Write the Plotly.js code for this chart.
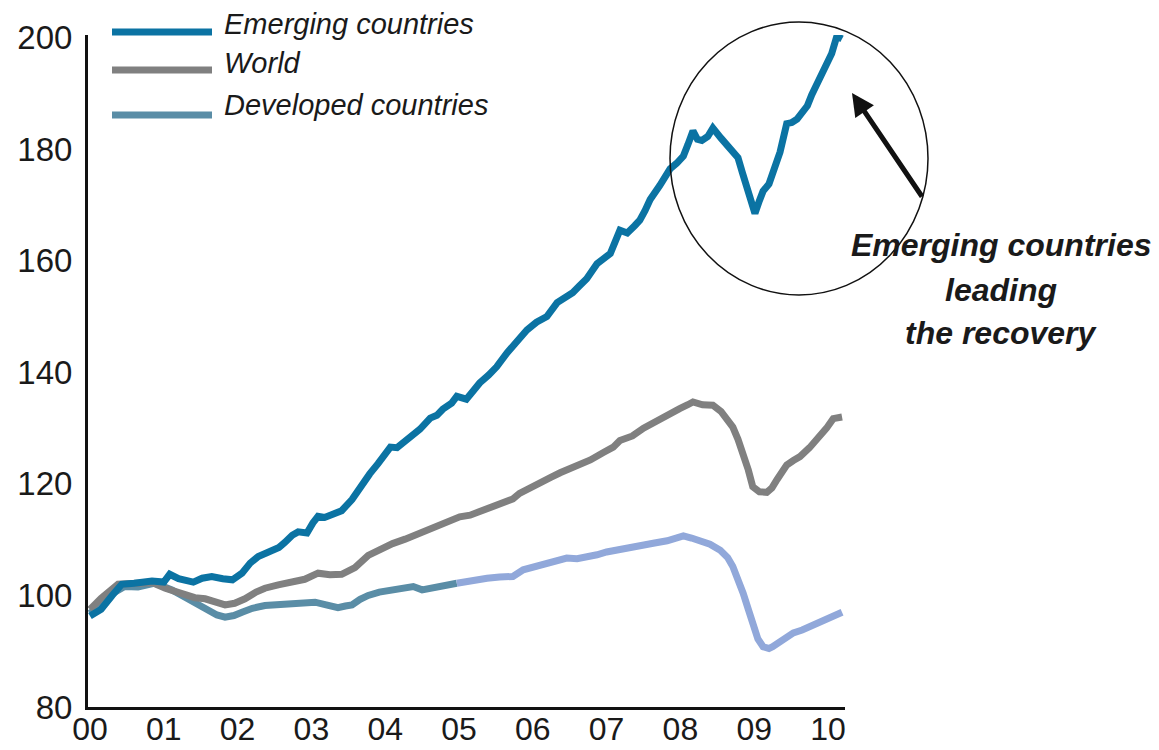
<!DOCTYPE html>
<html>
<head>
<meta charset="utf-8">
<script src="https://cdn.plot.ly/plotly-3.0.1.min.js"></script>
<style>html,body{margin:0;padding:0;background:#fff;}#chart{width:1159px;height:750px;}</style>
</head>
<body>
<div id="chart"></div>
<script>
// Year offsets since 2000 and index values (2000 = ~100)
const emergingX = [0.0,0.15,0.3,0.43,0.6,0.84,1.0,1.08,1.2,1.29,1.4,1.52,1.65,1.8,1.93,2.06,2.17,2.28,2.38,2.47,2.56,2.64,2.74,2.82,2.94,3.02,3.09,3.18,3.28,3.41,3.55,3.65,3.73,3.79,3.9,4.07,4.16,4.3,4.47,4.61,4.7,4.78,4.9,4.97,5.1,5.2,5.28,5.4,5.51,5.65,5.8,5.92,6.05,6.19,6.33,6.45,6.54,6.63,6.73,6.87,6.96,7.05,7.18,7.28,7.38,7.45,7.52,7.59,7.72,7.86,7.95,8.04,8.1,8.17,8.23,8.29,8.37,8.44,8.55,8.67,8.78,8.84,8.9,8.96,9.01,9.07,9.12,9.2,9.25,9.35,9.44,9.51,9.58,9.65,9.72,9.78,9.85,9.92,9.99,10.05,10.12,10.19];
const emergingY = [96.3,97.5,100.0,102.0,102.2,102.6,102.4,103.8,103.0,102.7,102.4,103.1,103.4,103.0,102.8,104.0,105.8,107.0,107.6,108.2,108.6,109.5,110.8,111.4,111.2,113.0,114.2,114.0,114.5,115.2,117.2,119.3,120.8,121.8,123.6,126.6,126.5,128.0,129.8,131.8,132.3,133.4,134.5,135.7,135.2,136.8,138.1,139.5,141.0,143.5,145.8,147.6,149.0,150.0,152.5,153.5,154.3,155.5,156.8,159.5,160.3,161.3,165.5,165.0,166.3,167.3,169.0,171.0,173.5,176.5,177.5,178.8,180.8,183.3,181.8,181.6,182.3,183.8,182.0,180.3,178.5,175.8,173.3,170.5,168.5,170.8,172.5,173.8,175.5,179.5,184.6,184.8,185.4,186.5,187.8,189.8,191.8,193.8,195.3,197.2,200.3,199.8];

const worldX = [0.0,0.15,0.38,0.6,0.84,1.02,1.15,1.29,1.42,1.56,1.7,1.83,1.96,2.1,2.25,2.37,2.55,2.74,2.91,3.09,3.25,3.41,3.59,3.77,3.9,4.0,4.1,4.27,4.47,4.62,4.8,5.01,5.15,5.28,5.45,5.6,5.73,5.82,5.92,6.1,6.25,6.37,6.55,6.78,6.95,7.09,7.18,7.35,7.5,7.63,7.8,7.99,8.1,8.17,8.3,8.44,8.55,8.64,8.71,8.78,8.85,8.92,8.98,9.07,9.17,9.24,9.31,9.38,9.44,9.53,9.62,9.75,9.89,9.98,10.07,10.19];
const worldY = [97.5,99.5,102.0,102.0,102.3,101.3,100.7,100.1,99.6,99.4,98.8,98.3,98.6,99.4,100.6,101.3,101.9,102.5,102.9,104.0,103.7,103.8,105.0,107.2,108.0,108.8,109.3,110.1,111.2,112.0,113.0,114.1,114.4,115.1,115.8,116.5,117.3,118.3,118.9,120.0,121.2,122.0,123.0,124.3,125.6,126.6,127.8,128.6,130.0,131.0,132.2,133.5,134.2,134.7,134.2,134.1,133.0,131.5,130.2,128.0,125.5,122.5,119.5,118.6,118.5,119.3,120.8,122.5,123.4,124.2,124.9,126.5,128.5,130.0,131.7,132.0];

const developedEarlyX = [0.0,0.15,0.3,0.47,0.65,0.88,1.0,1.11,1.3,1.46,1.6,1.72,1.83,1.95,2.06,2.2,2.37,2.5,2.64,2.85,3.05,3.2,3.36,3.46,3.55,3.66,3.77,3.92,4.09,4.25,4.38,4.5,4.65,4.8,4.97];
const developedEarlyY = [96.8,98.5,100.3,101.6,101.5,102.2,101.6,101.0,99.6,98.4,97.6,96.5,96.1,96.4,97.0,97.7,98.2,98.3,98.3,98.6,98.8,98.3,97.8,98.1,98.3,99.3,100.0,100.6,101.0,101.4,101.6,101.0,101.4,101.8,102.2];
const developedLateX = [4.97,5.15,5.38,5.55,5.73,5.87,6.05,6.25,6.46,6.6,6.73,6.87,7.0,7.2,7.45,7.65,7.82,7.95,8.04,8.15,8.27,8.4,8.54,8.64,8.71,8.78,8.85,8.92,8.98,9.05,9.12,9.2,9.25,9.38,9.53,9.65,9.76,9.9,10.03,10.12,10.19];
const developedLateY = [102.2,102.7,103.1,103.3,103.4,104.6,105.3,106.1,106.7,106.6,106.8,107.3,107.8,108.2,109.0,109.4,109.8,110.3,110.7,110.3,109.9,109.2,108.1,106.8,105.2,103.0,100.4,97.5,94.5,92.2,90.8,90.5,90.8,91.8,93.3,93.8,94.4,95.3,96.1,96.6,97.0];

const xTickVals = [0,1,2,3,4,5,6,7,8,9,10];
const xTickText = ["00","01","02","03","04","05","06","07","08","09","10"];
const yTickVals = [80,100,120,140,160,180,200];

const seriesNames = ["Emerging countries","World","Developed countries"];
const noteLines = ["Emerging countries","leading","the recovery"];

const C_EM = "#0b73a3", C_WO = "#808080", C_DEV = "#5a8da6", C_DEV2 = "#91a8da";
const LW = 7;

const traces = [
  {x: developedEarlyX, y: developedEarlyY, mode: "lines", line: {color: C_DEV, width: LW}, hoverinfo: "skip"},
  {x: developedLateX, y: developedLateY, mode: "lines", line: {color: C_DEV2, width: LW}, hoverinfo: "skip"},
  {x: worldX, y: worldY, mode: "lines", line: {color: C_WO, width: LW}, hoverinfo: "skip"},
  {x: emergingX, y: emergingY, mode: "lines", line: {color: C_EM, width: LW}, hoverinfo: "skip"}
];

const L = 88, T = 35, W = 757, H = 672;
const px = v => (v - L) / W;
const py = v => (T + H - v) / H;

const legendColors = [C_EM, C_WO, C_DEV];
const legendLineY = [32, 70, 115];
const legendTextY = [24, 63, 105];

const shapes = legendColors.map((c, i) => ({
  type: "line", xref: "paper", yref: "paper",
  x0: px(112), x1: px(212), y0: py(legendLineY[i]), y1: py(legendLineY[i]),
  line: {color: c, width: 7}
}));
shapes.push({
  type: "circle", xref: "paper", yref: "paper",
  x0: px(670), x1: px(928), y0: py(295), y1: py(22),
  line: {color: "#111", width: 1.5}
});

const annotations = seriesNames.map((n, i) => ({
  xref: "paper", yref: "paper", x: px(222), y: py(legendTextY[i]),
  xanchor: "left", yanchor: "middle", showarrow: false, text: "<i>" + n + "</i>",
  font: {family: "Liberation Sans, Arial, sans-serif", size: 29, color: "#1a1a1a"}
}));
const noteY = [245, 290, 333];
noteLines.forEach((t, i) => annotations.push({
  xref: "paper", yref: "paper", x: px(1001), y: py(noteY[i]),
  xanchor: "center", yanchor: "middle", showarrow: false, text: "<b><i>" + t + "</i></b>",
  font: {family: "Liberation Sans, Arial, sans-serif", size: 32, color: "#1a1a1a"}
}));
annotations.push({
  xref: "paper", yref: "paper", x: px(852), y: py(93), text: "",
  showarrow: true, arrowhead: 2, arrowsize: 0.9, arrowwidth: 5, arrowcolor: "#111",
  ax: 71, ay: 105, standoff: 0
});

const layout = {
  width: 1159, height: 750,
  margin: {l: L, r: 1159 - L - W, t: T, b: 750 - T - H, pad: 0},
  paper_bgcolor: "#fff", plot_bgcolor: "#fff",
  showlegend: false,
  xaxis: {
    range: [-0.027, 10.23], tickvals: xTickVals, ticktext: xTickText,
    showgrid: false, zeroline: false, showline: true, linecolor: "#111", linewidth: 3,
    ticks: "", ticklabelstandoff: -8,
    tickfont: {family: "Liberation Sans, Arial, sans-serif", size: 32, color: "#1a1a1a"}
  },
  yaxis: {
    range: [80, 200.5], tickvals: yTickVals,
    showgrid: false, zeroline: false, showline: true, linecolor: "#111", linewidth: 3,
    ticks: "", ticklabelstandoff: 6,
    tickfont: {family: "Liberation Sans, Arial, sans-serif", size: 33, color: "#1a1a1a"}
  },
  shapes: shapes,
  annotations: annotations
};

Plotly.newPlot("chart", traces, layout, {displayModeBar: false, staticPlot: true});
</script>
</body>
</html>
